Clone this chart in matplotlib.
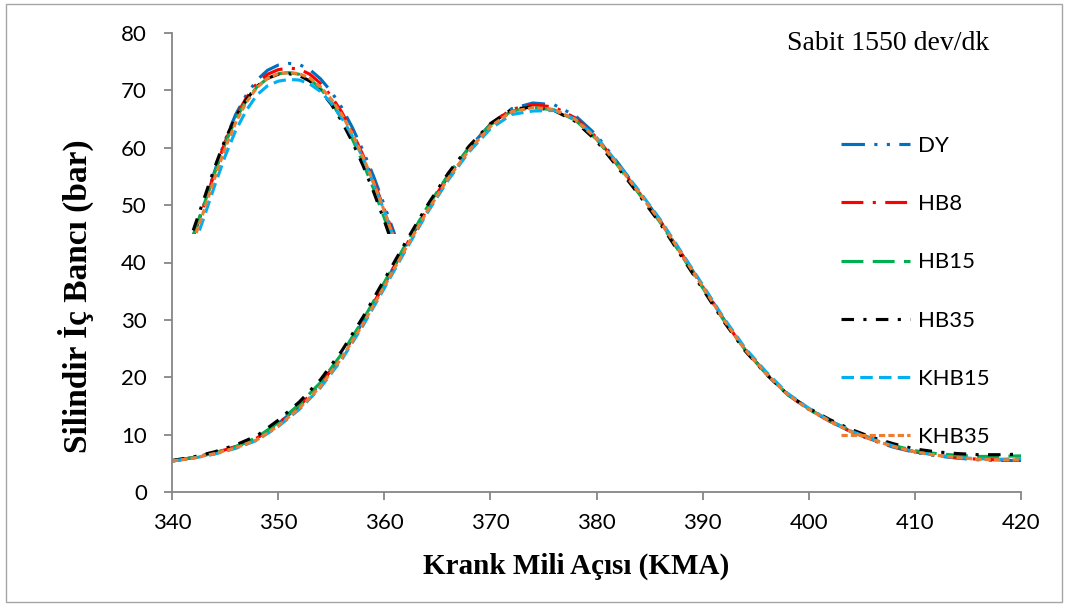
import numpy as np
import matplotlib.pyplot as plt
from matplotlib.patches import Rectangle

# crank angle, main curves (2 degree steps)
kma = list(range(340, 421, 2))

dy = [5.4, 6.0, 6.8, 7.9, 9.4, 11.9, 15.0, 18.8, 23.8, 29.7, 36.2, 42.8, 49.2, 55.0, 60.0, 64.1,
      66.8, 67.8, 67.5, 65.6, 62.2, 57.4, 52.4, 47.3, 41.6, 35.9, 30.1, 24.9, 20.6, 17.0, 14.4,
      12.3, 10.5, 9.0, 7.8, 6.9, 6.3, 5.9, 5.6, 5.5, 5.5]
hb8 = [5.4, 6.0, 6.8, 7.9, 9.4, 11.9, 15.0, 18.8, 23.8, 29.7, 36.2, 42.8, 49.2, 55.0, 60.0, 64.1,
       66.7, 67.5, 67.1, 65.2, 61.8, 57.1, 52.2, 47.2, 41.5, 35.8, 30.0, 24.8, 20.6, 17.0, 14.4,
       12.3, 10.5, 9.1, 7.9, 7.0, 6.4, 6.0, 5.7, 5.6, 5.6]
hb15 = [5.4, 6.0, 6.8, 7.9, 9.5, 12.1, 15.3, 19.1, 24.1, 30.0, 36.5, 43.1, 49.5, 55.2, 60.1, 64.0,
        66.4, 67.0, 66.6, 64.8, 61.5, 56.9, 52.0, 47.0, 41.3, 35.6, 29.9, 24.8, 20.6, 17.0, 14.5,
        12.4, 10.7, 9.3, 8.1, 7.2, 6.7, 6.4, 6.2, 6.2, 6.3]
hb35 = [5.5, 6.1, 7.0, 8.2, 9.8, 12.5, 15.7, 19.6, 24.6, 30.5, 37.0, 43.5, 49.8, 55.5, 60.3, 64.2,
        66.7, 67.1, 66.5, 64.6, 61.2, 56.6, 51.8, 46.8, 41.1, 35.4, 29.7, 24.6, 20.5, 17.0, 14.6,
        12.6, 10.9, 9.5, 8.4, 7.5, 7.0, 6.7, 6.5, 6.5, 6.6]
khb15 = [5.4, 5.9, 6.6, 7.6, 9.0, 11.4, 14.4, 18.2, 23.1, 29.0, 35.5, 42.1, 48.5, 54.3, 59.3, 63.3,
         65.8, 66.4, 66.5, 65.0, 61.8, 57.3, 52.5, 47.5, 41.8, 36.1, 30.3, 25.1, 20.9, 17.2, 14.6,
         12.4, 10.6, 9.2, 8.0, 7.0, 6.4, 6.0, 5.8, 5.7, 5.8]
khb35 = [5.4, 5.9, 6.7, 7.7, 9.1, 11.5, 14.6, 18.4, 23.4, 29.3, 35.8, 42.4, 48.8, 54.6, 59.6, 63.7,
         66.3, 67.0, 66.7, 64.9, 61.6, 57.0, 52.2, 47.2, 41.5, 35.8, 30.0, 24.8, 20.6, 17.0, 14.4,
         12.3, 10.5, 9.1, 7.9, 7.0, 6.4, 6.0, 5.7, 5.6, 5.6]

# zoomed peak shown at top left (1 degree steps)
kma_peak = list(range(342, 362))
dy_peak = [44.5, 50.0, 55.8, 61.3, 65.8, 69.2, 71.8, 73.5, 74.4, 74.7, 74.5, 73.6, 72.0, 69.8,
           67.0, 63.5, 59.5, 55.0, 50.0, 44.8]
hb8_peak = [44.5, 49.9, 55.6, 61.0, 65.4, 68.7, 71.2, 72.8, 73.6, 73.9, 73.7, 72.8, 71.2, 69.0,
            66.2, 62.7, 58.7, 54.2, 49.3, 44.2]
hb15_peak = [44.8, 50.0, 55.5, 60.7, 65.0, 68.2, 70.6, 72.1, 72.9, 73.1, 72.8, 71.9, 70.3, 68.0,
             65.0, 61.5, 57.4, 52.8, 47.8, 42.6]
hb35_peak = [45.6, 51.0, 56.5, 61.4, 65.4, 68.4, 70.7, 72.1, 72.8, 72.9, 72.6, 71.6, 69.9, 67.6,
             64.6, 61.0, 56.9, 52.3, 47.3, 42.0]
khb15_peak = [42.5, 47.8, 53.3, 58.5, 63.0, 66.5, 69.2, 70.8, 71.6, 71.9, 71.8, 71.1, 69.8, 67.8,
              65.2, 62.0, 58.2, 53.8, 49.0, 43.9]
khb35_peak = [43.6, 49.0, 54.6, 59.9, 64.4, 67.9, 70.5, 72.1, 72.9, 73.1, 72.9, 72.1, 70.6, 68.5,
              65.8, 62.4, 58.4, 53.9, 49.0, 43.8]

labels = ["DY", "HB8", "HB15", "HB35", "KHB15", "KHB35"]
colors = ["#0070C0", "#FF0000", "#00B050", "#000000", "#00B0F0", "#ED7D31"]
styles = [(0, (7.5, 3, 1, 3, 1, 3)), (0, (7, 3, 1, 3)), (0, (7, 3)),
          (0, (4, 3, 1, 3)), (0, (4, 2)), (0, (2, 1))]
main = [dy, hb8, hb15, hb35, khb15, khb35]
peak = [dy_peak, hb8_peak, hb15_peak, hb35_peak, khb15_peak, khb35_peak]

fig = plt.figure(figsize=(10.68, 6.08), dpi=100)
ax = fig.add_axes([172 / 1068, 1 - 492 / 608, (1021 - 172) / 1068, (492 - 33) / 608])

clip = Rectangle((340, 45), 80, 40, transform=ax.transData, visible=False)
ax.add_patch(clip)

for y, yp, lab, c, ls in zip(main, peak, labels, colors, styles):
    ax.plot(kma, y, color=c, linestyle=ls, lw=2.25, label=lab, dash_capstyle="butt")
    pl, = ax.plot(kma_peak, yp, color=c, linestyle=ls, lw=2.25, dash_capstyle="butt")
    pl.set_clip_path(clip)

ax.set_xlim(340, 420)
ax.set_ylim(0, 80)
ax.set_xticks(range(340, 421, 10))
ax.set_yticks(range(0, 81, 10))
for s in ["top", "right"]:
    ax.spines[s].set_visible(False)
for s in ["left", "bottom"]:
    ax.spines[s].set_color("#868686")
    ax.spines[s].set_linewidth(1.3)
ax.tick_params(axis="both", direction="out", length=6, width=1.3, color="#868686",
               labelsize=16)
ax.tick_params(axis="y", pad=12)
ax.tick_params(axis="x", pad=9)
for t in ax.get_xticklabels() + ax.get_yticklabels():
    t.set_fontfamily("Lato")

leg = ax.legend(loc="upper left", bbox_to_anchor=(841 / 1068, 1 - 136 / 608),
                bbox_transform=fig.transFigure, frameon=False, borderpad=0, borderaxespad=0,
                handlelength=3.1, handletextpad=0.36, labelspacing=1.72,
                prop={"family": "Lato", "size": 16})

fig.text(576 / 1068, 1 - 566 / 608, "Krank Mili Açısı (KMA)", ha="center", va="center",
         family="Liberation Serif", weight="bold", fontsize=21)
fig.text(76 / 1068, 1 - 296 / 608, "Silindir İç Bancı (bar)", ha="center", va="center",
         rotation=90, family="Liberation Serif", weight="bold", fontsize=24)
fig.text(888 / 1068, 1 - 44 / 608, "Sabit 1550 dev/dk", ha="center", va="center",
         family="Liberation Serif", fontsize=20)

fig.patches.append(Rectangle((6 / 1068, 6 / 608), 1056 / 1068, 598 / 608, fill=False,
                             edgecolor="#A6A6A6", lw=1, transform=fig.transFigure))

fig.savefig("out.png", dpi=100)
